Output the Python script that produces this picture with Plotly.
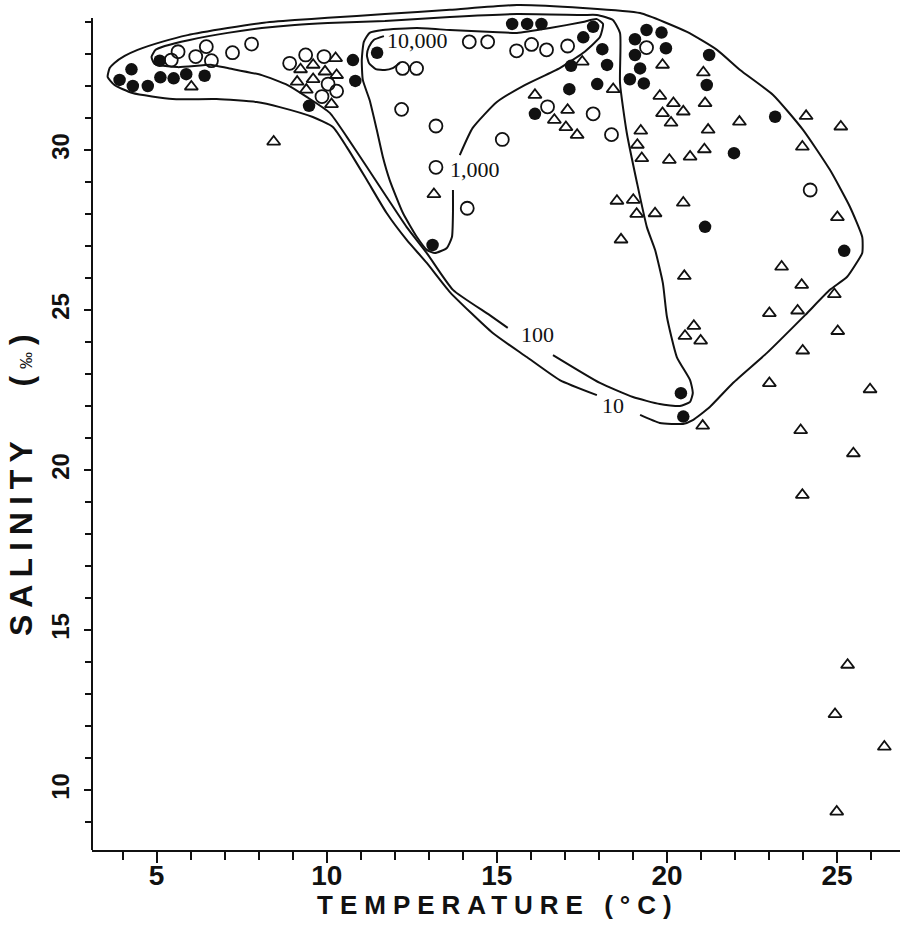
import plotly.graph_objects as go

# ---------------- data (temperature °C, salinity ‰) ----------------
filled_T = [4.26, 3.91, 4.30, 4.74, 5.09, 5.11, 5.50, 5.87, 6.41, 9.48, 10.77, 10.84, 11.48, 15.45,
            15.89, 16.31, 17.83, 17.54, 18.10, 18.24, 17.18, 17.13, 17.95, 16.12, 13.11, 19.40,
            19.84, 19.06, 19.97, 19.06, 19.21, 21.24, 18.91, 19.32, 21.17, 23.18, 21.97, 21.12,
            25.21, 20.41, 20.48]
filled_S = [32.52, 32.19, 32.00, 32.00, 32.79, 32.27, 32.24, 32.37, 32.32, 31.38, 32.81, 32.16,
            33.04, 33.94, 33.94, 33.94, 33.85, 33.52, 33.15, 32.66, 32.63, 31.90, 32.06, 31.13,
            27.03, 33.75, 33.67, 33.46, 33.18, 32.97, 32.55, 32.97, 32.21, 32.08, 32.03, 31.04,
            29.90, 27.60, 26.85, 22.40, 21.67]

open_T = [5.43, 5.63, 6.15, 6.46, 6.61, 7.23, 7.79, 8.91, 9.38, 9.92, 10.04, 10.29, 9.86, 12.23,
          12.64, 12.20, 13.21, 15.16, 16.49, 17.83, 18.37, 13.21, 14.13, 14.19, 14.73, 15.58,
          16.02, 16.46, 17.08, 19.40, 24.21]
open_S = [32.81, 33.07, 32.92, 33.23, 32.79, 33.04, 33.31, 32.71, 32.97, 32.92, 32.06, 31.84,
          31.67, 32.55, 32.55, 31.27, 30.75, 30.33, 31.35, 31.13, 30.48, 29.46, 28.18, 33.38,
          33.38, 33.10, 33.30, 33.13, 33.25, 33.20, 28.75]

tri_T = [6.02, 8.44, 9.23, 9.60, 10.26, 9.95, 10.29, 9.13, 9.60, 9.40, 10.14, 17.51, 18.42, 16.12,
         17.08, 16.69, 17.03, 17.36, 13.15, 18.53, 18.65, 19.87, 21.07, 19.79, 20.19, 21.12,
         19.87, 20.48, 20.12, 19.23, 21.21, 22.13, 24.09, 25.11, 19.13, 19.26, 20.07, 20.68,
         21.10, 23.98, 19.01, 19.11, 19.65, 20.48, 25.01, 23.37, 20.51, 23.96, 24.92, 23.01,
         23.84, 25.02, 20.79, 20.53, 20.99, 23.99, 23.01, 25.97, 21.05, 23.93, 25.48, 23.98,
         25.31, 24.94, 26.39, 24.99]
tri_S = [31.98, 30.26, 32.52, 32.66, 32.87, 32.45, 32.34, 32.13, 32.21, 31.88, 31.43, 32.76,
         31.90, 31.72, 31.25, 30.94, 30.71, 30.47, 28.62, 28.41, 27.20, 32.66, 32.42, 31.69,
         31.46, 31.46, 31.15, 31.20, 30.85, 30.60, 30.63, 30.88, 31.06, 30.73, 30.16, 29.74,
         29.69, 29.79, 30.02, 30.10, 28.44, 28.00, 28.02, 28.35, 27.90, 26.35, 26.06, 25.78,
         25.49, 24.90, 24.98, 24.34, 24.50, 24.19, 24.04, 23.73, 22.71, 22.52, 21.38, 21.24,
         20.52, 19.22, 13.91, 12.37, 11.35, 9.32]

# contour "10"
c10_T = [17.94, 16.85, 15.88, 14.88, 13.62, 12.94, 12.35, 11.76, 11.18, 10.59, 10.18, 9.59, 8.62,
         7.94, 6.76, 5.47, 4.29, 3.76, 3.56, 3.62, 3.76, 4.06, 4.44, 5.15, 5.91, 7.09, 8.09, 9.06,
         10.03, 11.71, 13.62, 15.59, 17.53, 19.21, 20.59, 21.47, 22.15, 23.12, 24.00, 24.79,
         25.38, 25.74, 25.74, 25.59, 25.29, 24.79, 24.06, 22.94, 21.94, 21.26, 20.76, 20.47,
         19.79, 19.21]
c10_S = [22.34, 22.81, 23.53, 24.28, 25.56, 26.47, 27.19, 28.03, 29.06, 30.09, 30.72, 31.03, 31.34,
         31.50, 31.59, 31.59, 31.78, 32.03, 32.28, 32.56, 32.72, 32.94, 33.13, 33.38, 33.59,
         33.81, 33.97, 34.06, 34.13, 34.25, 34.38, 34.53, 34.44, 34.28, 33.69, 33.13, 32.50,
         31.72, 30.63, 29.38, 28.22, 27.28, 26.78, 26.50, 26.03, 25.63, 24.84, 23.66, 22.72,
         21.97, 21.56, 21.44, 21.47, 21.72]

# contour "100"
c100_T = [16.65, 18.03, 19.00, 19.79, 20.38, 20.68, 20.76, 20.68, 20.29, 20.00, 19.88, 19.65,
          19.41, 19.12, 18.82, 18.62, 18.62, 18.41, 17.94, 17.53, 15.59, 13.62, 11.71, 10.03,
          9.06, 8.09, 7.09, 5.97, 5.24, 4.97, 4.85, 4.94, 5.62, 6.62, 7.09, 8.09, 8.85, 9.41,
          10.09, 10.59, 11.18, 11.76, 12.35, 12.94, 13.71, 14.79, 15.32]
c100_S = [23.59, 22.72, 22.28, 22.06, 22.00, 22.13, 22.41, 22.81, 23.53, 24.78, 25.84, 26.88,
          27.59, 28.97, 30.53, 32.09, 33.66, 34.06, 34.22, 34.22, 34.25, 34.16, 34.03, 33.97,
          33.91, 33.81, 33.66, 33.44, 33.25, 33.13, 32.91, 32.69, 32.59, 32.66, 32.56, 32.34,
          32.03, 31.66, 31.16, 30.41, 29.47, 28.53, 27.59, 26.78, 25.63, 24.84, 24.44]

# contour "1,000"
c1000_T = [13.91, 14.29, 15.00, 15.82, 16.85, 17.53, 18.03, 18.12, 17.94, 17.53, 16.56, 15.59,
           14.88, 13.62, 12.65, 11.65, 11.26, 11.09, 11.03, 11.06, 11.26, 11.47, 11.65, 11.85,
           12.24, 12.65, 12.94, 13.18, 13.53, 13.68, 13.71, 13.71]
c1000_S = [29.84, 30.69, 31.50, 32.03, 32.56, 33.03, 33.53, 33.94, 34.09, 34.00, 33.81, 33.66,
           33.69, 33.75, 33.81, 33.75, 33.66, 33.38, 32.81, 32.19, 31.56, 30.63, 29.78, 29.06,
           28.03, 27.28, 26.88, 26.78, 26.94, 27.28, 28.03, 28.75]

# contour "10,000" (open arc)
c10000_T = [11.68, 11.38, 11.24, 11.18, 11.24, 11.44, 11.71, 11.94, 12.15]
c10000_S = [33.56, 33.44, 33.22, 32.97, 32.72, 32.53, 32.50, 32.56, 32.72]

contour_labels = ["10,000", "1,000", "100", "10"]
label_T = [12.68, 14.35, 16.18, 18.41]
label_S = [33.41, 29.38, 24.22, 22.03]

x_range = [3.1, 26.85]
y_range = [8.125, 34.6875]
y_axis_top = 34.125
x_ticks = [5, 10, 15, 20, 25]
y_ticks = [10, 15, 20, 25, 30]

INK = "#111111"

fig = go.Figure()

for cx, cy in [(c10_T, c10_S), (c100_T, c100_S), (c1000_T, c1000_S), (c10000_T, c10000_S)]:
    fig.add_trace(go.Scatter(x=cx, y=cy, mode="lines",
                             line=dict(color=INK, width=2, shape="spline", smoothing=0.5),
                             hoverinfo="skip", showlegend=False))

fig.add_trace(go.Scatter(x=tri_T, y=tri_S, mode="markers", showlegend=False,
                         marker=dict(symbol="triangle-up-open", size=11.5, color=INK,
                                     line=dict(width=1.8, color=INK))))
fig.add_trace(go.Scatter(x=open_T, y=open_S, mode="markers", showlegend=False,
                         marker=dict(symbol="circle-open", size=13, color=INK,
                                     line=dict(width=1.8, color=INK))))
fig.add_trace(go.Scatter(x=filled_T, y=filled_S, mode="markers", showlegend=False,
                         marker=dict(symbol="circle", size=12.5, color=INK,
                                     line=dict(width=0))))

for t, x, y in zip(contour_labels, label_T, label_S):
    fig.add_annotation(x=x, y=y, xref="x", yref="y", text=t, showarrow=False,
                       font=dict(family="Liberation Serif, Times New Roman, serif", size=22, color=INK))

# axis titles
fig.add_annotation(xref="paper", yref="paper", x=0.503, y=-0.0645, xanchor="center", yanchor="middle",
                   text='<span style="letter-spacing:7px">TEMPERATURE (°C)</span>', showarrow=False,
                   font=dict(family="Liberation Sans, Arial, sans-serif", size=26, color=INK, weight="bold"))
fig.add_annotation(xref="paper", yref="paper", x=-0.0885, y=0.4335, xanchor="center", yanchor="middle",
                   textangle=-90,
                   text='<span style="letter-spacing:7px">SALINITY\u00a0\u00a0\u00a0(<span style="font-size:17px;font-weight:normal">‰</span>)</span>',
                   showarrow=False,
                   font=dict(family="Liberation Sans, Arial, sans-serif", size=32, color=INK, weight="bold"))

# left axis line (ends at top tick)
frac = (y_axis_top - y_range[0]) / (y_range[1] - y_range[0])
fig.add_shape(type="line", xref="x domain", yref="y domain", x0=0, x1=0, y0=0, y1=frac,
              line=dict(color=INK, width=2))

fig.update_layout(
    width=900, height=925, autosize=False,
    margin=dict(l=92, r=0, t=0, b=75, autoexpand=False),
    paper_bgcolor="white", plot_bgcolor="white",
    showlegend=False,
    xaxis=dict(range=x_range, tickvals=x_ticks, ticks="outside", ticklen=11, tickwidth=2,
               tickcolor=INK, showline=True, linecolor=INK, linewidth=2, showgrid=False,
               zeroline=False, mirror=False, automargin=False, ticklabelstandoff=-12,
               tickfont=dict(family="Liberation Sans, Arial, sans-serif", size=28, color=INK, weight="bold"),
               minor=dict(dtick=1, tick0=0, ticks="outside", ticklen=8, tickwidth=2, tickcolor=INK,
                          showgrid=False)),
    yaxis=dict(range=y_range, tickvals=y_ticks, ticks="outside", ticklen=7, tickwidth=2,
               tickcolor=INK, showline=False, showgrid=False, zeroline=False, tickangle=-90,
               ticklabelstandoff=5, automargin=False,
               tickfont=dict(family="Liberation Sans, Arial, sans-serif", size=24, color=INK, weight="bold"),
               minor=dict(dtick=1, tick0=0, ticks="outside", ticklen=6, tickwidth=2, tickcolor=INK,
                          showgrid=False)),
)

fig.write_html("out.html", config={"displayModeBar": False, "staticPlot": True},
               post_script="document.body.style.margin='0';document.body.style.overflow='hidden';")
